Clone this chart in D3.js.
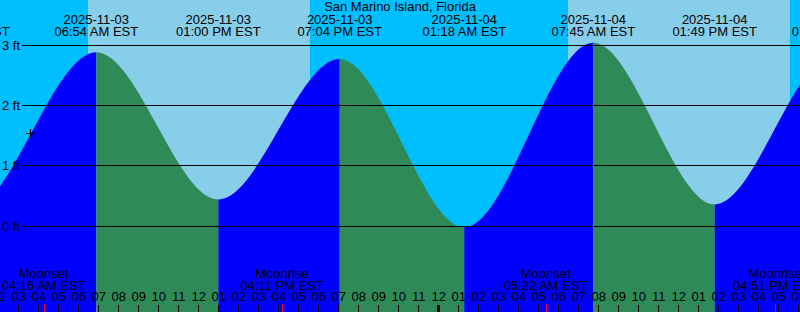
<!DOCTYPE html>
<html><head><meta charset="utf-8">
<script src="https://cdn.jsdelivr.net/npm/d3@7"></script>
<style>
body{margin:0;background:#fff;}
svg{display:block;}
text{font-family:"Liberation Sans",Arial,sans-serif;font-size:13px;fill:#000;}
</style>
</head><body>
<svg id="c" width="800" height="312"></svg>
<script>
// ---- data ----
const title = "San Marino Island, Florida";
const viewStart = "2025-11-03T02:05", viewEnd = "2025-11-04T18:05";
const tideTimes = ["2025-11-02T18:15","2025-11-03T00:28","2025-11-03T06:54","2025-11-03T13:00","2025-11-03T19:04",
                   "2025-11-04T01:18","2025-11-04T07:45","2025-11-04T13:49","2025-11-04T19:47","2025-11-05T02:05"];
const tideHeights = [2.65, 0.23, 2.87, 0.43, 2.76, -0.03, 3.03, 0.35, 2.82, -0.05];
const sunriseTimes = ["2025-11-03T06:29","2025-11-04T06:29"];
const sunsetTimes  = ["2025-11-03T17:35","2025-11-04T17:35"];
const moonNames = ["Moonset","Moonrise","Moonset","Moonrise"];
const moonTimes = ["2025-11-03T04:16","2025-11-03T16:11","2025-11-04T05:22","2025-11-04T16:51"];
const levelTicks = [0, 1, 2, 3];
const nowTime = "2025-11-03T03:35", nowHeight = 1.54;

// ---- setup ----
const W = 800, H = 312;
const parse = d3.utcParse("%Y-%m-%dT%H:%M");
const fmtDate = d3.utcFormat("%Y-%m-%d");
const fmtTime = d3.utcFormat("%I:%M %p EST");
const colors = {night:"#00BFFF", day:"#87CEEB", flood:"#0000FF", ebb:"#2E8B57"};

const x = d3.scaleUtc().domain([parse(viewStart), parse(viewEnd)]).range([0, W]);
const y = d3.scaleLinear().domain([0, 3]).range([225.5, 44.5]);

const svg = d3.select("#c");
const tides = tideTimes.map((t, i) => ({t: parse(t), h: tideHeights[i]}));

// background night/day
svg.append("rect").attr("width", W).attr("height", H).attr("fill", colors.night);
sunriseTimes.forEach((s, i) => {
  const x0 = x(parse(s)), x1 = x(parse(sunsetTimes[i]));
  svg.append("rect").attr("x", x0).attr("y", 0).attr("width", x1 - x0).attr("height", H)
    .attr("fill", colors.day).attr("shape-rendering", "crispEdges");
});

// tide area, coloured by rising/falling
const area = d3.area().x(d => x(d.t)).y0(H).y1(d => y(d.h)).curve(d3.curveMonotoneX);
const defs = svg.append("defs");
for (let i = 0; i < tides.length - 1; i++) {
  const x0 = x(tides[i].t), x1 = x(tides[i + 1].t);
  if (x1 < 0 || x0 > W) continue;
  defs.append("clipPath").attr("id", "seg" + i)
    .append("rect").attr("x", x0).attr("y", 0).attr("width", x1 - x0).attr("height", H);
  svg.append("path").datum(tides).attr("d", area)
    .attr("clip-path", `url(#seg${i})`)
    .attr("fill", tides[i + 1].h > tides[i].h ? colors.flood : colors.ebb);
}

// level gridlines and labels
levelTicks.forEach(v => {
  const yy = Math.round(y(v)) + 0.5;
  svg.append("line").attr("x1", 22).attr("x2", W).attr("y1", yy).attr("y2", yy)
    .attr("stroke", "#000").attr("stroke-width", 1);
  svg.append("text").attr("x", 20).attr("y", yy + 4.5).attr("text-anchor", "end").text(v + " ft");
});

// hour axis at the bottom
const axis = d3.axisTop(x).ticks(d3.utcHour.every(1)).tickFormat(d3.utcFormat("%I"))
  .tickSize(7).tickPadding(4);
const ag = svg.append("g").attr("transform", `translate(0,${H})`).call(axis);
ag.select(".domain").remove();
ag.attr("font-family", null).attr("font-size", null);
ag.selectAll("text").attr("fill", "#000").style("font-size", "13px");
ag.selectAll(".tick line").attr("stroke", "#000").attr("shape-rendering", "crispEdges")
  .attr("stroke-width", d => d.getUTCHours() === 0 ? 3 : 1);
// the partially visible hour before the view
const firstHour = d3.utcHour.floor(x.domain()[0]);
if (x(firstHour) < 0) {
  svg.append("text").attr("x", x(firstHour)).attr("y", H - 11).attr("text-anchor", "middle")
    .text(d3.utcFormat("%I")(firstHour));
}

// moon events
moonTimes.forEach((m, i) => {
  const t = parse(m), xx = x(t);
  svg.append("line").attr("x1", Math.round(xx) + 0.5).attr("x2", Math.round(xx) + 0.5)
    .attr("y1", 304).attr("y2", H).attr("stroke", "#f00");
  const tx = svg.append("text").attr("text-anchor", "middle");
  tx.append("tspan").attr("x", xx).attr("y", 277.5).text(moonNames[i]);
  tx.append("tspan").attr("x", xx).attr("y", 289.5).text(fmtTime(t));
});

// tide event labels
tides.forEach(d => {
  const xx = x(d.t);
  if (xx < -120 || xx > W + 120) return;
  const tx = svg.append("text").attr("text-anchor", "middle");
  tx.append("tspan").attr("x", xx).attr("y", 23.5).text(fmtDate(d.t));
  tx.append("tspan").attr("x", xx).attr("y", 36).text(fmtTime(d.t));
});

// title
svg.append("text").attr("x", W / 2).attr("y", 11).attr("text-anchor", "middle").text(title);

// now marker
const nx = Math.round(x(parse(nowTime))) + 0.5, ny = Math.round(y(nowHeight)) + 0.5;
svg.append("path").attr("d", `M${nx - 4.5},${ny}H${nx + 4.5}M${nx},${ny - 4.5}V${ny + 4.5}`)
  .attr("stroke", "#000").attr("stroke-width", 1.2);
</script>
</body></html>
